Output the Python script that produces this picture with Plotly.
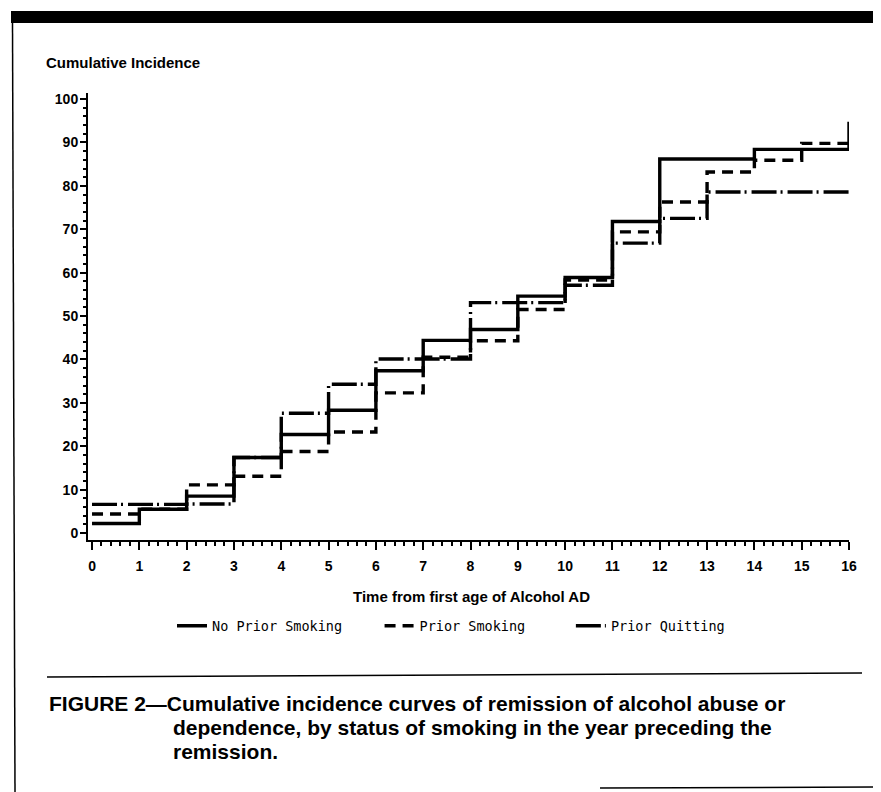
import plotly.graph_objects as go

# ---- data ----
times = list(range(17))
no_prior_smoking = [2.2, 5.5, 8.5, 17.4, 22.7, 28.3, 37.4, 44.4, 46.9, 54.6, 58.9, 71.8, 86.2, 86.2, 88.4, 88.4, 94.8]
prior_smoking = [4.4, 5.5, 11.1, 13.1, 18.8, 23.3, 32.3, 40.5, 44.3, 51.5, 58.3, 69.4, 76.3, 83.2, 85.9, 89.8, 89.8]
prior_quitting = [6.6, 6.6, 6.7, 17.4, 27.6, 34.3, 40.1, 40.1, 53.1, 53.1, 57.1, 66.8, 72.5, 78.6, 78.6, 78.6, 78.6]
series_names = ["No Prior Smoking", "Prior Smoking", "Prior Quitting"]
legend_labels = ["No Prior Smoking" + "\u00a0" * 4, "Prior Smoking" + "\u00a0" * 5, "Prior Quitting"]
x_tick_vals = list(range(17))
y_tick_vals = list(range(0, 101, 10))

# ---- layout geometry (pixels; page body has an 8px margin) ----
OFF = 8
W, H = 881 - OFF, 792 - OFF
PLOT_X0, PLOT_X1 = 88, 849      # reference pixel coords of the plot area
PLOT_Y0, PLOT_Y1 = 93, 540
L, R = PLOT_X0 - OFF, W - (PLOT_X1 - OFF)
T, B = PLOT_Y0 - OFF, H - (PLOT_Y1 - OFF)
PW, PH = PLOT_X1 - PLOT_X0, PLOT_Y1 - PLOT_Y0


def px(x):
    return (x - PLOT_X0) / PW


def py(y):
    return (PLOT_Y1 - y) / PH


fig = go.Figure()
dashes = ["solid", "11px,7px", "25px,4px,2px,5px"]
for name, label, vals, dash in zip(series_names, legend_labels,
                                   [no_prior_smoking, prior_smoking, prior_quitting], dashes):
    fig.add_trace(go.Scatter(
        x=times, y=vals, name=label, mode="lines", hovertemplate=name + ": %{y}<extra></extra>",
        line=dict(color="black", width=3.4, shape="hv", dash=dash),
    ))

tick_font = dict(family="Liberation Sans, Arial, sans-serif", size=14, color="black", weight="bold")

fig.update_layout(
    width=W, height=H,
    margin=dict(l=L, r=R, t=T, b=B),
    paper_bgcolor="white", plot_bgcolor="white",
    showlegend=True,
    legend=dict(
        orientation="h", x=px(172), xanchor="left", y=py(626), yanchor="middle",
        font=dict(family="DejaVu Sans Mono, Liberation Mono, monospace", size=13.5, color="black"),
        itemwidth=30, bgcolor="rgba(0,0,0,0)", traceorder="normal",
    ),
    xaxis=dict(
        range=[-0.085, 16], tickvals=x_tick_vals, ticktext=[str(v) for v in x_tick_vals],
        showgrid=False, zeroline=False, showline=True, linecolor="black", linewidth=2,
        ticks="outside", ticklen=8, tickwidth=2, tickcolor="black",
        minor=dict(dtick=0.2, ticks="outside", ticklen=4, tickwidth=1.5, tickcolor="black", showgrid=False),
        tickfont=tick_font, ticklabelstandoff=4,
    ),
    yaxis=dict(
        range=[-1.6, 101.4], tickvals=y_tick_vals, ticktext=[str(v) for v in y_tick_vals],
        showgrid=False, zeroline=False, showline=True, linecolor="black", linewidth=2,
        ticks="outside", ticklen=6, tickwidth=2, tickcolor="black",
        minor=dict(dtick=2, ticks="outside", ticklen=3, tickwidth=1.5, tickcolor="black", showgrid=False),
        tickfont=tick_font, ticklabelstandoff=-1,
    ),
)

ann_font = dict(family="Liberation Sans, Arial, sans-serif", color="black", weight="bold")
annotations = [
    dict(text="Cumulative Incidence", x=px(44), y=py(62), xanchor="left", yanchor="middle",
         font=dict(ann_font, size=15)),
    dict(text="Time from first age of Alcohol AD", x=px(471), y=py(596), xanchor="center", yanchor="middle",
         font=dict(ann_font, size=15)),
    dict(text="FIGURE 2\u2014Cumulative incidence curves of remission of alcohol abuse or",
         x=px(47), y=py(703), xanchor="left", yanchor="middle", font=dict(ann_font, size=21)),
    dict(text="dependence, by status of smoking in the year preceding the",
         x=px(171), y=py(727), xanchor="left", yanchor="middle", font=dict(ann_font, size=21)),
    dict(text="remission.",
         x=px(171), y=py(751), xanchor="left", yanchor="middle", font=dict(ann_font, size=21)),
]
for a in annotations:
    a.update(xref="paper", yref="paper", showarrow=False)
fig.update_layout(annotations=annotations)

shapes = [
    # heavy bar at the top of the page
    dict(type="rect", x0=px(11), x1=px(881), y0=py(11), y1=py(23), fillcolor="black", line=dict(width=0)),
    # left frame rule
    dict(type="line", x0=px(12.5), x1=px(15), y0=py(23), y1=py(792), line=dict(color="black", width=1.5)),
    # rule above the caption
    dict(type="line", x0=px(47), x1=px(862), y0=py(677), y1=py(673), line=dict(color="black", width=1.5)),
    # rule at the bottom
    dict(type="line", x0=px(600), x1=px(881), y0=py(788), y1=py(787), line=dict(color="black", width=1.5)),
]
for s in shapes:
    s.update(xref="paper", yref="paper")
fig.update_layout(shapes=shapes)

fig.write_html("out.html")
